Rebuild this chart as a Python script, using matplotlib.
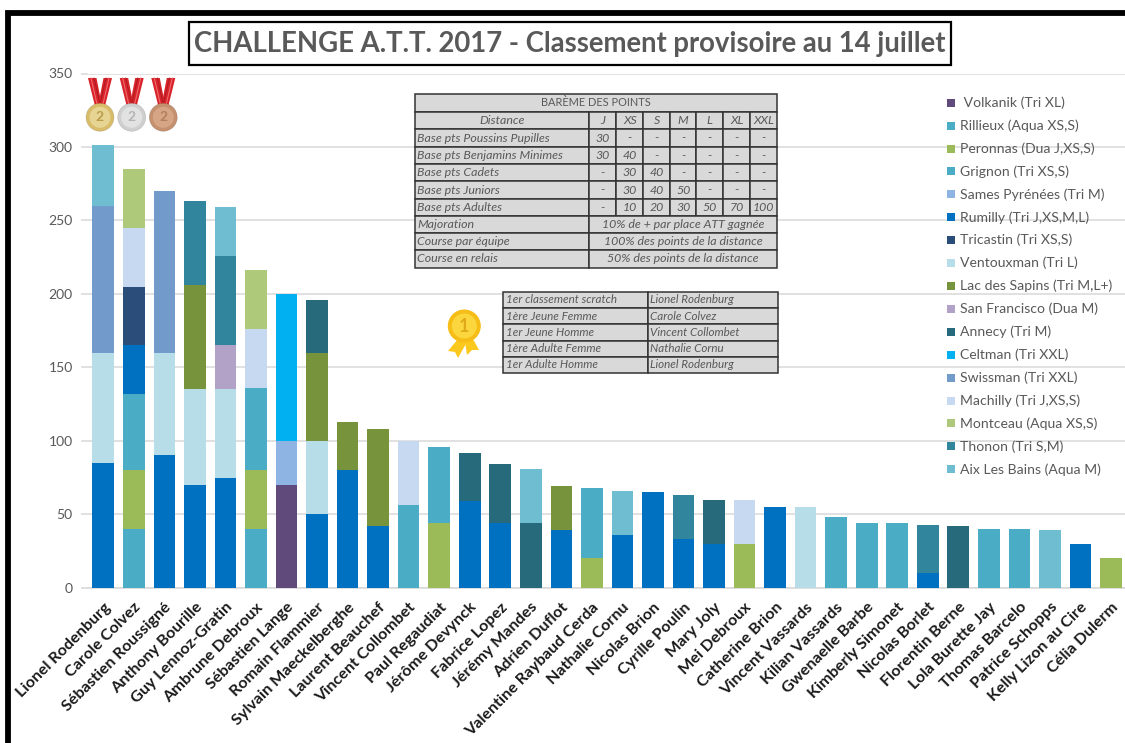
import numpy as np
import matplotlib
matplotlib.use('Agg')
import matplotlib.pyplot as plt
from matplotlib.patches import Rectangle, Circle, Polygon

plt.rcParams['font.family'] = ['Lato', 'DejaVu Sans']

# Data
names = ['Lionel Rodenburg', 'Carole Colvez', 'Sébastien Roussigné', 'Anthony Bourille',
         'Guy Lennoz-Gratin', 'Ambrune Debroux', 'Sébastien Lange', 'Romain Flammier',
         'Sylvain Maeckelberghe', 'Laurent Beauchef', 'Vincent Collombet', 'Paul Regaudiat',
         'Jérôme Devynck', 'Fabrice Lopez', 'Jérémy Mandes', 'Adrien Duflot',
         'Valentine Raybaud Cerda', 'Nathalie Cornu', 'Nicolas Brion', 'Cyrille Poulin',
         'Mary Joly', 'Mei Debroux', 'Catherine Brion', 'Vincent Vassards', 'Kilian Vassards',
         'Gwenaelle Barbe', 'Kimberly Simonet', 'Nicolas Borlet', 'Florentin Berne',
         'Lola Burette Jay', 'Thomas Barcelo', 'Patrice Schopps', 'Kelly Lizon au Cire',
         'Célia Dulerm']

volkanik = [0,0,0,0,0,0,70,0,0,0, 0,0,0,0,0,0,0,0,0,0, 0,0,0,0,0,0,0,0,0,0, 0,0,0,0]
rillieux = [0,40,0,0,0,40,0,0,0,0, 0,0,0,0,0,0,0,0,0,0, 0,0,0,0,0,0,0,0,0,40, 40,0,0,0]
peronnas = [0,40,0,0,0,40,0,0,0,0, 0,44,0,0,0,0,20,0,0,0, 0,30,0,0,0,0,0,0,0,0, 0,0,0,20]
grignon = [0,52,0,0,0,56,0,0,0,0, 56,52,0,0,0,0,48,0,0,0, 0,0,0,0,48,44,44,0,0,0, 0,0,0,0]
sames = [0,0,0,0,0,0,30,0,0,0, 0,0,0,0,0,0,0,0,0,0, 0,0,0,0,0,0,0,0,0,0, 0,0,0,0]
rumilly = [85,33,90,70,75,0,0,50,80,42, 0,0,59,44,0,39,0,36,65,33, 30,0,55,0,0,0,0,10,0,0, 0,0,30,0]
tricastin = [0,40,0,0,0,0,0,0,0,0, 0,0,0,0,0,0,0,0,0,0, 0,0,0,0,0,0,0,0,0,0, 0,0,0,0]
ventoux = [75,0,70,65,60,0,0,50,0,0, 0,0,0,0,0,0,0,0,0,0, 0,0,0,55,0,0,0,0,0,0, 0,0,0,0]
lac = [0,0,0,71,0,0,0,60,33,66, 0,0,0,0,0,30,0,0,0,0, 0,0,0,0,0,0,0,0,0,0, 0,0,0,0]
san_francisco = [0,0,0,0,30,0,0,0,0,0, 0,0,0,0,0,0,0,0,0,0, 0,0,0,0,0,0,0,0,0,0, 0,0,0,0]
annecy = [0,0,0,0,0,0,0,36,0,0, 0,0,33,40,44,0,0,0,0,0, 30,0,0,0,0,0,0,0,42,0, 0,0,0,0]
celtman = [0,0,0,0,0,0,100,0,0,0, 0,0,0,0,0,0,0,0,0,0, 0,0,0,0,0,0,0,0,0,0, 0,0,0,0]
swissman = [100,0,110,0,0,0,0,0,0,0, 0,0,0,0,0,0,0,0,0,0, 0,0,0,0,0,0,0,0,0,0, 0,0,0,0]
machilly = [0,40,0,0,0,40,0,0,0,0, 44,0,0,0,0,0,0,0,0,0, 0,30,0,0,0,0,0,0,0,0, 0,0,0,0]
montceau = [0,40,0,0,0,40,0,0,0,0, 0,0,0,0,0,0,0,0,0,0, 0,0,0,0,0,0,0,0,0,0, 0,0,0,0]
thonon = [0,0,0,57,61,0,0,0,0,0, 0,0,0,0,0,0,0,0,0,30, 0,0,0,0,0,0,0,33,0,0, 0,0,0,0]
aix = [41,0,0,0,33,0,0,0,0,0, 0,0,0,0,37,0,0,30,0,0, 0,0,0,0,0,0,0,0,0,0, 0,39,0,0]

series = [volkanik, rillieux, peronnas, grignon, sames, rumilly, tricastin, ventoux, lac,
          san_francisco, annecy, celtman, swissman, machilly, montceau, thonon, aix]
series_labels = [' Volkanik (Tri XL)', 'Rillieux (Aqua XS,S)', 'Peronnas (Dua J,XS,S)',
                 'Grignon (Tri XS,S)', 'Sames Pyrénées (Tri M)', 'Rumilly (Tri J,XS,M,L)',
                 'Tricastin (Tri XS,S)', 'Ventouxman (Tri L)', 'Lac des Sapins (Tri M,L+)',
                 'San Francisco (Dua M)', 'Annecy (Tri M)', 'Celtman (Tri XXL)',
                 'Swissman (Tri XXL)', 'Machilly (Tri J,XS,S)', 'Montceau (Aqua XS,S)',
                 'Thonon (Tri S,M)', 'Aix Les Bains (Aqua M)']
colors = ['#604a7b', '#4bacc6', '#9bbb59', '#4bacc6', '#8eb4e3', '#0070c0', '#2a4d7a',
          '#b7dee8', '#77933c', '#b3a2c7', '#276a7c', '#00b0f0', '#729aca', '#c6d9f1',
          '#afc97a', '#31859c', '#6fbdd1']

bareme_head = ['Distance', 'J', 'XS', 'S', 'M', 'L', 'XL', 'XXL']
bareme_rows = [['Base pts Poussins Pupilles', '30', '-', '-', '-', '-', '-', '-'],
               ['Base pts Benjamins Minimes', '30', '40', '-', '-', '-', '-', '-'],
               ['Base pts Cadets', '-', '30', '40', '-', '-', '-', '-'],
               ['Base pts Juniors', '-', '30', '40', '50', '-', '-', '-'],
               ['Base pts Adultes', '-', '10', '20', '30', '50', '70', '100']]
bareme_notes = [['Majoration', '10% de + par place ATT gagnée'],
                ['Course par équipe', '100% des points de la distance'],
                ['Course en relais', '50% des points de la distance']]
winners = [['1er classement scratch', 'Lionel Rodenburg'],
           ['1ère Jeune Femme', 'Carole Colvez'],
           ['1er Jeune Homme', 'Vincent Collombet'],
           ['1ère Adulte Femme', 'Nathalie Cornu'],
           ['1er Adulte Homme', 'Lionel Rodenburg']]

W, H = 1125, 743
GREY = '#595959'
GRID = '#d9d9d9'

fig = plt.figure(figsize=(W/100, H/100), dpi=100, facecolor='white')
ax = fig.add_axes([88/W, (H-587.7)/H, (1126.3-88)/W, (587.7-73.5)/H])

# Stacked bars
x = np.arange(len(names))
bottom = np.zeros(len(names))
for vals, c in zip(series, colors):
    ax.bar(x, vals, 0.71, bottom=bottom, color=c, zorder=3)
    bottom += np.array(vals)

ax.set_xlim(-0.5, len(names)-0.5)
ax.set_ylim(0, 350)
ax.set_yticks(np.arange(0, 351, 50))
ax.yaxis.grid(True, color=GRID, lw=1.1, zorder=0)
ax.set_xticks(x)
ax.set_xticklabels(names, rotation=45, ha='right', rotation_mode='anchor',
                   fontsize=11.6, fontweight='bold', color='#1a1a1a')
ax.tick_params(axis='x', length=0, pad=9)
ax.tick_params(axis='y', length=5, width=1.1, color=GRID, labelcolor=GREY, labelsize=10, pad=6)
for s in ['top', 'right', 'left']:
    ax.spines[s].set_visible(False)
ax.spines['bottom'].set_color(GRID)
ax.spines['bottom'].set_linewidth(1.2)

# Overlay in image pixels for the boxes, tables and medals
ov = fig.add_axes([0, 0, 1, 1], facecolor='none')
ov.set_xlim(0, W)
ov.set_ylim(H, 0)
ov.axis('off')

# Outer frame, open on the right and at the bottom
ov.plot([7.7, 7.7, W], [H, 13, 13], color='black', lw=4.2, solid_joinstyle='miter')

# Title
ov.add_patch(Rectangle((188.7, 21.8), 762, 43.6, fc='white', ec='black', lw=1.6, zorder=5))
ov.text(569.5, 44, 'CHALLENGE A.T.T. 2017 - Classement provisoire au 14 juillet',
        ha='center', va='center', fontsize=19.8, fontweight='bold', color=GREY, zorder=6)

# Legend
for i, (lab, c) in enumerate(zip(series_labels, colors)):
    y = 102.7 + i*22.91
    ov.add_patch(Rectangle((947.3, y-4), 8, 8, fc=c, ec='none'))
    ov.text(960, y, lab, ha='left', va='center', fontsize=10.1, color=GREY)


def cell(x0, x1, y0, y1, txt='', align='center', italic=True, size=8.9):
    ov.add_patch(Rectangle((x0, y0), x1-x0, y1-y0, fc=GRID, ec='#333333', lw=1.1, zorder=4))
    if txt:
        tx = (x0+x1)/2 if align == 'center' else x0+2.5
        ov.text(tx, (y0+y1)/2, txt, ha=align, va='center', fontsize=size, color=GREY,
                style='italic' if italic else 'normal', zorder=5)


# Points table
col_x = [414.7, 588.7, 616.3, 643.3, 670, 696.3, 723.3, 750.3, 777]
row_y = [94, 111.7, 129.3, 146.7, 164, 181.3, 198.7, 215.7, 233, 250.3, 267.7]
cell(col_x[0], col_x[-1], row_y[0], row_y[1], 'BARÈME DES POINTS', italic=False, size=7.9)
for j, t in enumerate(bareme_head):
    cell(col_x[j], col_x[j+1], row_y[1], row_y[2], t)
for i, row in enumerate(bareme_rows):
    for j, t in enumerate(row):
        cell(col_x[j], col_x[j+1], row_y[i+2], row_y[i+3], t, 'left' if j == 0 else 'center')
for i, row in enumerate(bareme_notes):
    cell(col_x[0], col_x[1], row_y[i+7], row_y[i+8], row[0], 'left')
    cell(col_x[1], col_x[-1], row_y[i+7], row_y[i+8], row[1])

# Winners table
win_x = [503.3, 648, 778.3]
win_y = [291.7, 308, 324, 340.7, 357, 373]
for i, row in enumerate(winners):
    for j, t in enumerate(row):
        cell(win_x[j], win_x[j+1], win_y[i], win_y[i+1], t, 'left', size=8.4)


def medal(cx, outer, inner, txt_c):
    # two red ribbons forming a V
    for sgn in (-1, 1):
        ov.add_patch(Polygon([(cx+sgn*12, 78), (cx+sgn*3.5, 78), (cx-sgn*2, 106), (cx+sgn*5, 106)],
                             fc='#d8232a', ec='none', zorder=6))
    for sgn in (-1, 1):
        ov.plot([cx+sgn*9, cx+sgn*3], [78, 104], color='#ee6a6c', lw=0.8, zorder=6)
        ov.plot([cx+sgn*6, cx+sgn*0.5], [78, 102], color='#a81a20', lw=0.6, zorder=6)
    ov.add_patch(Circle((cx, 117.3), 14, fc=outer, ec='#00000022', lw=0.5, zorder=7))
    ov.add_patch(Circle((cx, 117.3), 10.5, fc=inner, ec='none', zorder=8))
    ov.text(cx, 117.3, '2', ha='center', va='center', fontsize=10, fontweight='bold',
            color=txt_c, zorder=9)


medal(100, '#d8bc6a', '#e6d493', '#b89c4c')
medal(131.7, '#cfcfcf', '#e2e2e2', '#b4b4b4')
medal(163.3, '#c4906e', '#d5a585', '#b27e5c')

# Gold rosette
ov.add_patch(Polygon([(458, 339), (467, 342), (458, 358), (455, 352), (448, 351)],
                     fc='#fbc91e', ec='none', zorder=6))
ov.add_patch(Polygon([(465, 342), (473, 339), (479, 350), (472, 350), (467, 355)],
                     fc='#fbc91e', ec='none', zorder=6))
ov.add_patch(Circle((464.3, 326), 16.5, fc='#f6bd16', ec='none', zorder=7))
ov.add_patch(Circle((464.3, 326), 12.5, fc='#fbd63c', ec='none', zorder=8))
ov.text(464.3, 326, '1', ha='center', va='center', fontsize=13, fontweight='bold',
        color='#e0a91a', zorder=9)

fig.savefig('out.png', dpi=100)
